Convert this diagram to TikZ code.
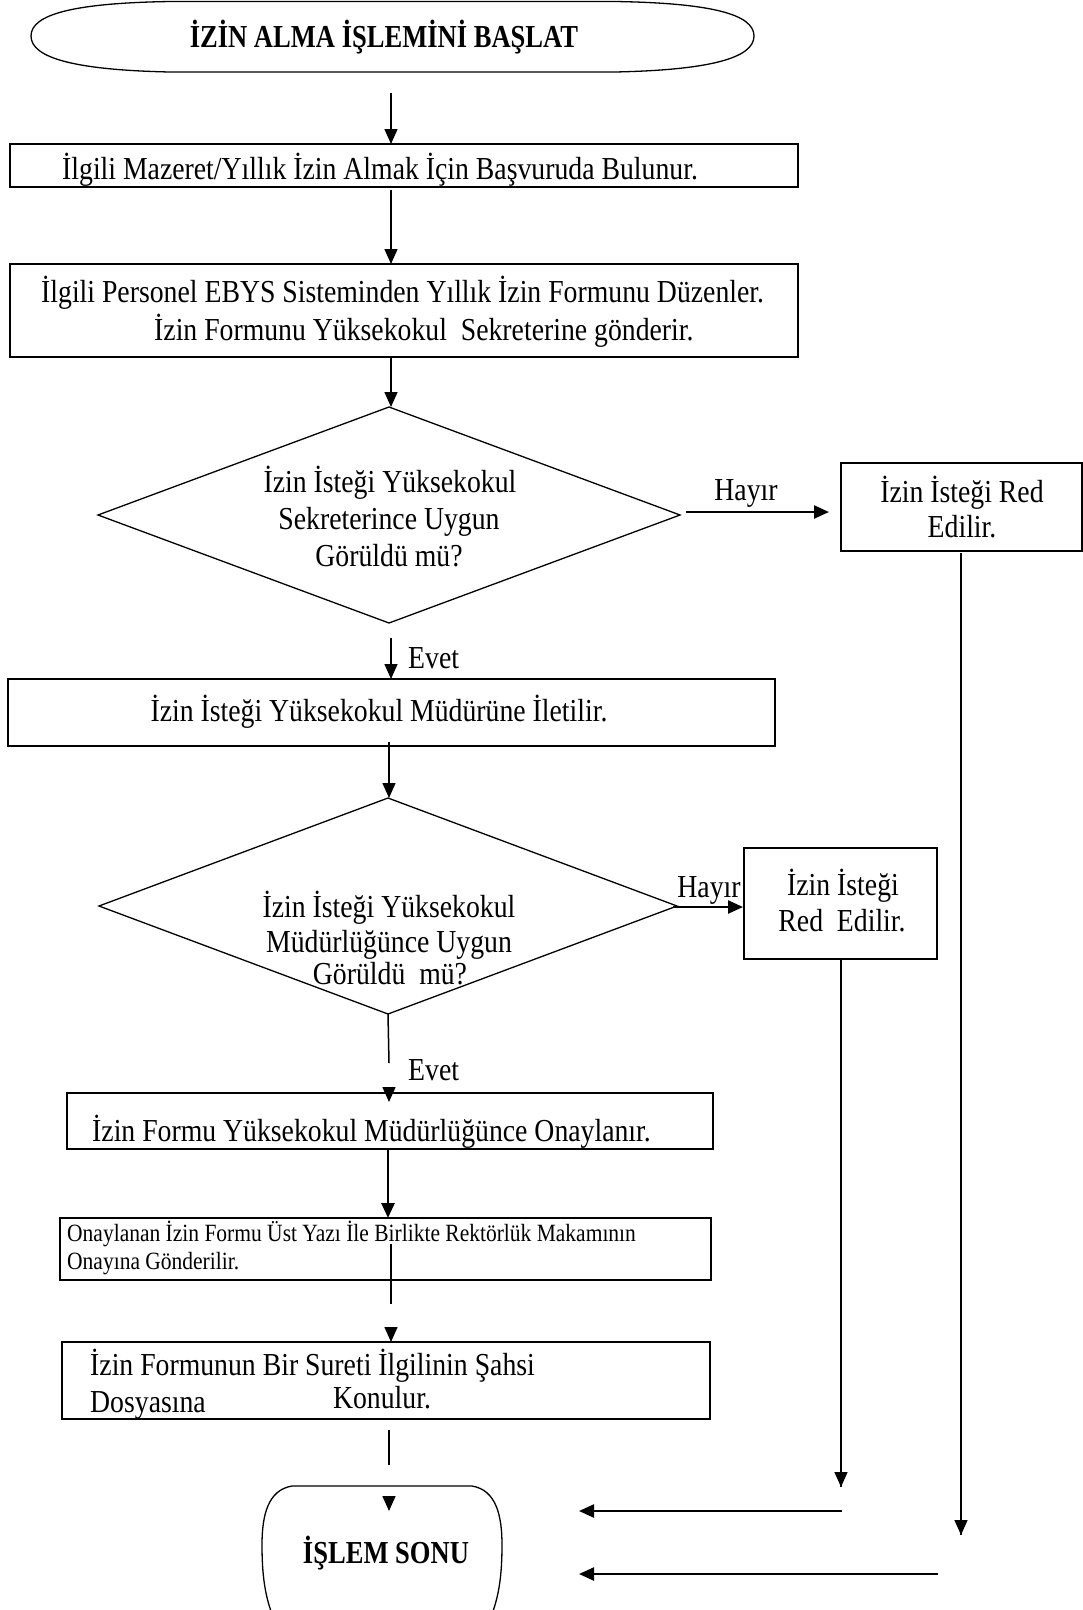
\documentclass[tikz,border=0pt]{standalone}
\usepackage{fontspec}
\setmainfont[FakeStretch=0.867, BoldFeatures={FakeStretch=0.83}]{Liberation Serif}
\usetikzlibrary{shapes.geometric, arrows.meta, calc}

\begin{document}
\begin{tikzpicture}[x=1pt,y=-1pt,
  shapebox/.style={draw, line width=1.3pt, inner sep=0pt, outer sep=0pt},
  thickbox/.style={draw, line width=2.6pt, inner sep=0pt, outer sep=0pt},
  outline/.style={line width=1.3pt},
  txt/.style={inner sep=0pt, font=\fontsize{32}{37}\selectfont},
  smalltxt/.style={inner sep=0pt, anchor=base west, font=\fontsize{24.8}{30}\selectfont},
  boldtxt/.style={inner sep=0pt, anchor=base, font=\fontsize{32}{37}\selectfont\bfseries},
  txtc/.style={txt, anchor=base},
  txtw/.style={txt, anchor=base west},
  arr/.style={line width=1.5pt, -{Triangle[length=15pt,width=13pt]}},
  harr/.style={line width=2.4pt, -{Triangle[length=15pt,width=13pt]}},
  ln/.style={line width=1.5pt},
  thk/.style={line width=2.6pt}]
\useasboundingbox (0,0) rectangle (1083,1610);

% ---------- shapes ----------
% start terminator (flattened oval)
\draw[outline] (31,36) .. controls (31,14) and (75,3) .. (170,1.5) -- (615,1.5)
  .. controls (710,3) and (754,14) .. (754,36)
  .. controls (754,58) and (710,70) .. (615,72) -- (170,72)
  .. controls (75,70) and (31,58) .. (31,36) -- cycle;
\node[shapebox, minimum width=788pt, minimum height=43pt] (b1) at (404,165.5) {};
\node[shapebox, minimum width=788pt, minimum height=93pt] (b2) at (404,310.5) {};
\node[shapebox, diamond, minimum width=582pt, minimum height=216pt] (d1) at (389,515) {};
\node[shapebox, minimum width=241pt, minimum height=88pt] (r1) at (961.5,507) {};
\node[shapebox, minimum width=767pt, minimum height=67pt] (b3) at (391.5,712.5) {};
\node[shapebox, diamond, minimum width=578pt, minimum height=216pt] (d2) at (388,906) {};
\node[shapebox, minimum width=193pt, minimum height=111pt] (r2) at (840.5,903.5) {};
\node[shapebox, minimum width=646pt, minimum height=56pt] (b4) at (390,1121) {};
\node[thickbox, minimum width=651pt, minimum height=62pt] (b5) at (385.5,1249) {};
\node[shapebox, minimum width=648pt, minimum height=77pt] (b6) at (386,1380.5) {};
% end terminator (bottom part cut by the page)
\draw[outline] (272,1614) .. controls (265,1595) and (262,1575) .. (262,1545)
  .. controls (262,1515) and (268,1490) .. (292,1486) -- (472,1486)
  .. controls (496,1490) and (502,1515) .. (502,1545)
  .. controls (502,1575) and (499,1595) .. (492,1614);

% ---------- texts ----------
\node[boldtxt] (tstart) at (384,47) {İZİN ALMA İŞLEMİNİ BAŞLAT};
\node[txtw] (t1) at (62,179) {İlgili Mazeret/Yıllık İzin Almak İçin Başvuruda Bulunur.};
\node[txtw] (t2a) at (41,302) {İlgili Personel EBYS Sisteminden Yıllık İzin Formunu Düzenler.};
\node[txtw] (t2b) at (154,340) {İzin Formunu Yüksekokul~ Sekreterine gönderir.};
\node[txtc] (d1a) at (390,492) {İzin İsteği Yüksekokul};
\node[txtc] (d1b) at (389,529) {Sekreterince Uygun};
\node[txtc] (d1c) at (389,566) {Görüldü mü?};
\node[txtc] (h1) at (746,500) {Hayır};
\node[txtc] (r1a) at (962,502) {İzin İsteği Red};
\node[txtc] (r1b) at (962,537) {Edilir.};
\node[txtw] (e1) at (408,668) {Evet};
\node[txtc] (t3) at (379,721) {İzin İsteği Yüksekokul Müdürüne İletilir.};
\node[txtc] (d2a) at (389,917) {İzin İsteği Yüksekokul};
\node[txtc] (d2b) at (389,952) {Müdürlüğünce Uygun};
\node[txtc] (d2c) at (390,984) {Görüldü~ mü?};
\node[txtc] (h2) at (709,897) {Hayır};
\node[txtc] (r2a) at (843,895) {İzin İsteği};
\node[txtc] (r2b) at (842,931) {Red~ Edilir.};
\node[txtw] (e2) at (408,1080) {Evet};
\node[txtw] (t4) at (92,1141) {İzin Formu Yüksekokul Müdürlüğünce Onaylanır.};
\node[smalltxt] (t5a) at (67,1241) {Onaylanan İzin Formu Üst Yazı İle Birlikte Rektörlük Makamının};
\node[smalltxt] (t5b) at (67,1269) {Onayına Gönderilir.};
\node[txtw] (t6a) at (90,1375) {İzin Formunun Bir Sureti İlgilinin Şahsi};
\node[txtw] (t6b) at (90,1412) {Dosyasına};
\node[txtc] (t6c) at (382,1408) {Konulur.};
\node[boldtxt] (tend) at (386,1563) {İŞLEM SONU};

% ---------- connector end points ----------
\coordinate (c1) at (391,93);
\coordinate (c2) at (391,190);
\coordinate (c3) at (391,357);
\coordinate (c4a) at (686,512);
\coordinate (c4b) at (829,512);
\coordinate (c5a) at (961,553);
\coordinate (c5b) at (961,1535);
\coordinate (c5c) at (938,1574);
\coordinate (c5d) at (579,1574);
\coordinate (c6a) at (841,959);
\coordinate (c6b) at (841,1487);
\coordinate (c6c) at (842,1511);
\coordinate (c6d) at (579,1511);
\coordinate (c7) at (391,638);
\coordinate (c8) at (389,742);
\coordinate (c9a) at (673,907);
\coordinate (c9b) at (743,907);
\coordinate (c10a) at (389,1063);
\coordinate (c10b) at (389,1087);
\coordinate (c10c) at (389,1102);
\coordinate (c11) at (388,1150);
\coordinate (c12a) at (391,1244);
\coordinate (c12b) at (391,1304);
\coordinate (c12c) at (391,1327);
\coordinate (c13a) at (389,1430);
\coordinate (c13b) at (389,1465);
\coordinate (c13c) at (389,1496);
\coordinate (c13d) at (389,1511);

% ---------- connectors ----------
\draw[arr] (c1) -- (c1 |- b1.north);
\draw[arr] (c2) -- (c2 |- b2.north);
\draw[arr] (c3) -- (c3 |- d1.north);
\draw[harr] (c4a) -- (c4b);
\draw[ln] (c5a) -- (c5b);
\draw[arr] ($(c5b)+(0,-20)$) -- (c5b);
\draw[harr] (c5c) -- (c5d);
\draw[ln] (c6a) -- (c6b);
\draw[arr] ($(c6b)+(0,-20)$) -- (c6b);
\draw[harr] (c6c) -- (c6d);
\draw[arr] (c7) -- (c7 |- b3.north);
\draw[arr] (c8) -- (c8 |- d2.north);
\draw[harr] (c9a) -- (c9b);
\draw[ln] (d2.south) -- (c10a);
\draw[arr] (c10b) -- (c10c);
\draw[thk, -{Triangle[length=15pt,width=13pt]}] (c11) -- (c11 |- b5.north);
\draw[thk] (c12a) -- (c12b);
\draw[arr] (c12c) -- (c12c |- b6.north);
\draw[ln] (c13a) -- (c13b);
\draw[arr] (c13c) -- (c13d);
\end{tikzpicture}
\end{document}
